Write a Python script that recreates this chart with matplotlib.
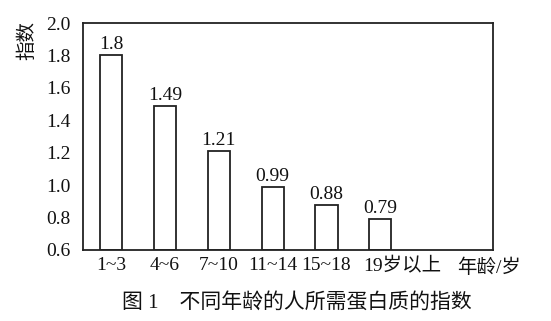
import matplotlib
matplotlib.use("Agg")
import matplotlib.pyplot as plt
from matplotlib.transforms import ScaledTranslation

categories = ["1~3", "4~6", "7~10", "11~14", "15~18", "19岁以上"]
values = [1.8, 1.49, 1.21, 0.99, 0.88, 0.79]
value_labels = ["1.8", "1.49", "1.21", "0.99", "0.88", "0.79"]
yticks = [0.6, 0.8, 1.0, 1.2, 1.4, 1.6, 1.8, 2.0]

FAM = ["Liberation Serif", "Noto Sans CJK SC"]
plt.rcParams["font.family"] = FAM

fig = plt.figure(figsize=(5.51, 3.21), dpi=100)
W, H = 551, 321
ax = fig.add_axes([83 / W, 1 - 250 / H, (493 - 83) / W, (250 - 23) / H])

x = list(range(len(categories)))
ax.bar(x, [v - 0.6 for v in values], bottom=0.6, width=0.41,
       facecolor="white", edgecolor="#222222", linewidth=1.3)
for xi, v, lab in zip(x, values, value_labels):
    ax.text(xi, v + 0.012, lab, ha="center", va="bottom", fontsize=14,
            color="#111111")

ax.set_xlim(-0.52, 7.09)
ax.set_ylim(0.6, 2.0)
ax.set_yticks(yticks)
ax.set_yticklabels([f"{t:.1f}" for t in yticks], fontsize=14, color="#111111")
ax.set_xticks(x)
ax.set_xticklabels(categories, fontsize=14, color="#111111")
ax.tick_params(length=0)
ax.tick_params(axis="x", pad=5)
ax.tick_params(axis="y", pad=9)
last = ax.get_xticklabels()[-1]
last.set_transform(last.get_transform() + ScaledTranslation(22 / 100, 0, fig.dpi_scale_trans))
for s in ax.spines.values():
    s.set_linewidth(1.3)
    s.set_color("#222222")

fig.text(27 / W, 1 - 40 / H, "指数", rotation=90, ha="center", va="center",
         fontsize=14, color="#111111")
fig.text(489 / W, 1 - 268 / H, "年龄/岁", ha="center", va="center",
         fontsize=14, color="#111111")
fig.text(297 / W, 1 - 303 / H, "图 1    不同年龄的人所需蛋白质的指数", ha="center",
         va="center", fontsize=15, color="#111111")

fig.savefig("out.png", dpi=100, facecolor="white")
